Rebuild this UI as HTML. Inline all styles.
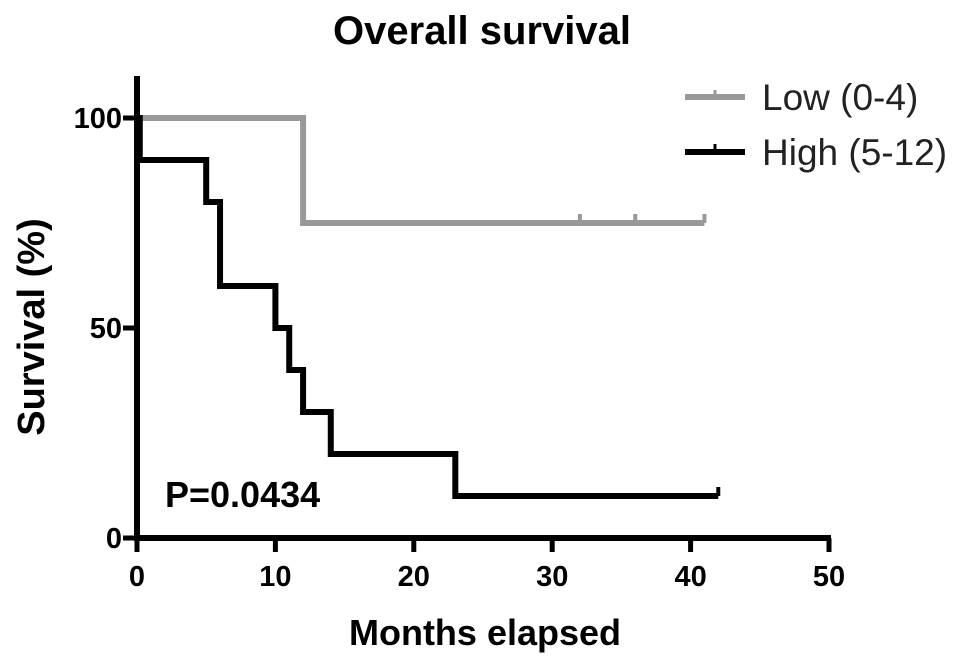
<!DOCTYPE html>
<html><head><meta charset="utf-8"><style>
body{margin:0;background:#fff;}
svg{display:block;font-family:"Liberation Sans",Arial,sans-serif;}
</style></head><body>
<svg width="969" height="666" viewBox="0 0 969 666">
<text x="482" y="44" text-anchor="middle" font-size="40" font-weight="bold">Overall survival</text>
<g id="axes"></g>
<g id="series"></g>
<text x="165" y="507" font-size="36" font-weight="bold">P=0.0434</text>
<text x="485" y="645" text-anchor="middle" font-size="36" font-weight="bold">Months elapsed</text>
<text transform="translate(44,327) rotate(-90)" text-anchor="middle" font-size="38" font-weight="bold">Survival (%)</text>
<g>
<g>
<line x1="685" y1="97" x2="745" y2="97" stroke="#999" stroke-width="6"/><line x1="715" y1="90" x2="715" y2="97" stroke="#999" stroke-width="3"/>
<text x="762" y="110" font-size="37" fill="#222">Low (0-4)</text></g>
<g>
<line x1="685" y1="152" x2="745" y2="152" stroke="#000" stroke-width="6"/><line x1="715" y1="144" x2="715" y2="152" stroke="#000" stroke-width="3"/>
<text x="762" y="165" font-size="37" fill="#222">High (5-12)</text></g>
</g>
</svg>
<script>
const xTicks=[0,10,20,30,40,50];
const yTicks=[0,50,100];
const lowTimes=[0,12,41];
const lowSurv=[100,75,75];
const lowCensor=[32,36,41];
const highTimes=[0,0.2,5,6,10,11,12,14,23,42];
const highSurv=[100,90,80,60,50,40,30,20,10,10];
const highCensor=[42];
const NS="http://www.w3.org/2000/svg";
const X=v=>137+v*13.84, Y=v=>538-v*4.2;
function mk(t,a,p){const e=document.createElementNS(NS,t);for(const k in a)e.setAttribute(k,a[k]);p.appendChild(e);return e;}
const ax=document.getElementById('axes');
let l=mk('line',{x1:137,y1:538,x2:831,y2:538,stroke:'#000','stroke-width':6},ax);


l=mk('line',{x1:137,y1:76,x2:137,y2:541,stroke:'#000','stroke-width':6},ax);


xTicks.forEach(t=>{mk('line',{x1:X(t),y1:538,x2:X(t),y2:552,stroke:'#000','stroke-width':5},ax);
const tx=mk('text',{x:X(t),y:586,'text-anchor':'middle','font-size':29,'font-weight':'bold'},ax);tx.textContent=t;

});
yTicks.forEach(t=>{mk('line',{x1:123,y1:Y(t),x2:137,y2:Y(t),stroke:'#000','stroke-width':5},ax);
const tx=mk('text',{x:122,y:Y(t)+10,'text-anchor':'end','font-size':29,'font-weight':'bold'},ax);tx.textContent=t;

});
const sg=document.getElementById('series');
function step(times,surv,col,name,cens){
 let d='M'+X(times[0])+','+Y(surv[0]);
 for(let i=1;i<times.length;i++){d+=' H'+X(times[i])+' V'+Y(surv[i]);}
 const p=mk('path',{d:d,fill:'none',stroke:col,'stroke-width':6},sg);
 
 
 cens.forEach(c=>{let s=surv[0];for(let i=0;i<times.length;i++)if(times[i]<=c)s=surv[i];
 const m=mk('line',{x1:X(c),y1:Y(s)-9,x2:X(c),y2:Y(s),stroke:col,'stroke-width':4},sg);
 
 });
}
step(lowTimes,lowSurv,'#999','low-series-line',lowCensor);
step(highTimes,highSurv,'#000','high-series-line',highCensor);
</script>
</body></html>
